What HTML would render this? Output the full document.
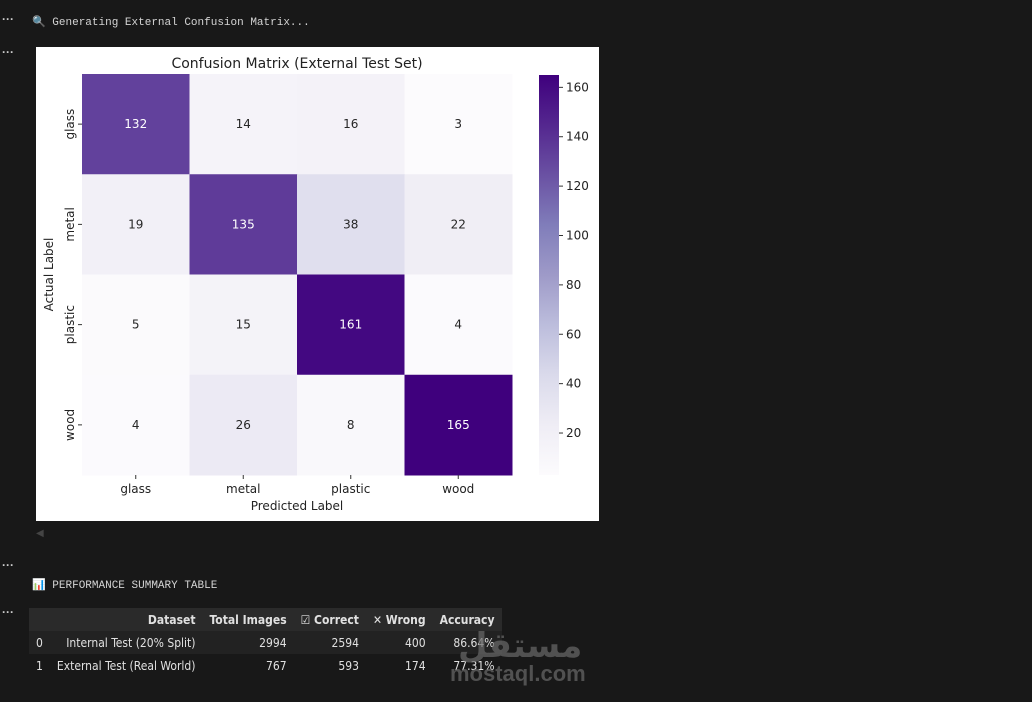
<!DOCTYPE html>
<html><head><meta charset="utf-8">
<style>
body{margin:0;width:1032px;height:702px;background:#181818;overflow:hidden;font-family:"Liberation Sans","DejaVu Sans",sans-serif;position:relative}
.mono{font-family:"Liberation Mono","DejaVu Sans Mono",monospace;color:#d4d4d4;font-size:11px;position:absolute}
.dots{position:absolute;left:2px;color:#ccc;font-size:12px;font-weight:bold}
table{position:absolute;left:29px;top:608px;border-collapse:collapse;font-size:12px;color:#e0e0e0;font-family:"DejaVu Sans Condensed","Liberation Sans",sans-serif}
th{background:#2a2a2a;text-align:right;padding:0 7px;height:23px;font-weight:bold}
td{text-align:right;padding:0 7px;height:23px}
tr.r1 td{background:#222}
</style></head><body>
<div class="dots" style="top:12px">···</div>
<div class="dots" style="top:45px">···</div>
<div class="dots" style="top:558px">···</div>
<div class="dots" style="top:605px">···</div>
<div class="mono" style="left:32px;top:15px">🔍 Generating External Confusion Matrix...</div>
<div class="mono" style="left:32px;top:578px">📊 PERFORMANCE SUMMARY TABLE</div>
<div style="position:absolute;left:36px;top:528px;color:#444;font-size:10px">◀</div>
<svg id="chart" style="position:absolute;left:36px;top:47px" width="563" height="474"></svg>
<table>
<tr><th></th><th>Dataset</th><th>Total Images</th><th>☑ Correct</th><th>✕ Wrong</th><th>Accuracy</th></tr>
<tr class="r1"><td style="text-align:left">0</td><td>Internal Test (20% Split)</td><td>2994</td><td>2594</td><td>400</td><td>86.64%</td></tr>
<tr><td style="text-align:left">1</td><td>External Test (Real World)</td><td>767</td><td>593</td><td>174</td><td>77.31%</td></tr>
</table>
<div style="position:absolute;left:450px;top:628px;color:#6a6a6a;font-size:22px;font-weight:bold;opacity:.7"><div style="font-size:34px;line-height:36px;margin-left:8px">مستقل</div><div style="line-height:20px">mostaql.com</div></div>
<script>
const labels=["glass","metal","plastic","wood"];
const matrix=[[132,14,16,3],[19,135,38,22],[5,15,161,4],[4,26,8,165]];
const cbTicks=[20,40,60,80,100,120,140,160];
const vmin=3,vmax=165;
const stops=["#fcfbfd","#efedf5","#dadaeb","#bcbddc","#9e9ac8","#807dba","#6a51a3","#54278f","#3f007d"];
function hex(c){return [1,3,5].map(i=>parseInt(c.substr(i,2),16))}
function cmap(v){let t=(v-vmin)/(vmax-vmin);t=Math.max(0,Math.min(1,t))*8;let i=Math.min(7,Math.floor(t)),f=t-i;const a=hex(stops[i]),b=hex(stops[i+1]);return `rgb(${a.map((x,k)=>Math.round(x+(b[k]-x)*f)).join(",")})`}
const svg=document.getElementById('chart');const NS="http://www.w3.org/2000/svg";
function el(t,a,txt){const e=document.createElementNS(NS,t);for(const k in a)e.setAttribute(k,a[k]);if(txt!=null)e.textContent=txt;svg.appendChild(e);return e}
el('rect',{x:0,y:0,width:563,height:474,fill:'#fff'});
const X0=46,Y0=27,W=430,H=401,cw=W/4,ch=H/4;
const fs={'font-family':'DejaVu Sans, Liberation Sans, sans-serif','font-size':12,fill:'#222'};
let t=el('text',{x:X0+W/2,y:21,'text-anchor':'middle','font-family':'DejaVu Sans, sans-serif','font-size':14,fill:'#222'},'Confusion Matrix (External Test Set)');

matrix.forEach((row,r)=>row.forEach((v,c)=>{
 const rc=el('rect',{x:X0+c*cw,y:Y0+r*ch,width:cw+0.5,height:ch+0.5,fill:cmap(v)});
 
 const tx=el('text',Object.assign({},fs,{x:X0+c*cw+cw/2,y:Y0+r*ch+ch/2+4,'text-anchor':'middle',fill:(v-vmin)/(vmax-vmin)>0.5?'#fff':'#262626'}),v);
 
}));
labels.forEach((l,i)=>{
 const x=X0+i*cw+cw/2;el('line',{x1:x,x2:x,y1:Y0+H,y2:Y0+H+4,stroke:'#333'});
 const a=el('text',Object.assign({},fs,{x:x,y:Y0+H+18,'text-anchor':'middle'}),l);
 const y=Y0+i*ch+ch/2;el('line',{x1:X0-4,x2:X0,y1:y,y2:y,stroke:'#333'});
 const b=el('text',Object.assign({},fs,{x:0,y:0,'text-anchor':'middle',transform:`translate(${X0-8},${y}) rotate(-90)`}),l);
});
let xl=el('text',Object.assign({},fs,{x:X0+W/2,y:463,'text-anchor':'middle'}),'Predicted Label');
let yl=el('text',Object.assign({},fs,{x:0,y:0,'text-anchor':'middle',transform:`translate(17,${Y0+H/2}) rotate(-90)`}),'Actual Label');
const CX=503,CY=28,CW=20,CH=400;
const defs=el('defs',{});const g=document.createElementNS(NS,'linearGradient');g.setAttribute('id','cg');g.setAttribute('x1',0);g.setAttribute('y1',1);g.setAttribute('x2',0);g.setAttribute('y2',0);defs.appendChild(g);
stops.forEach((s,i)=>{const st=document.createElementNS(NS,'stop');st.setAttribute('offset',i/8);st.setAttribute('stop-color',s);g.appendChild(st)});
const cb=el('rect',{x:CX,y:CY,width:CW,height:CH,fill:'url(#cg)'});
const cy=v=>CY+CH-(v-vmin)/(vmax-vmin)*CH;
cbTicks.forEach(v=>{el('line',{x1:CX+CW,x2:CX+CW+4,y1:cy(v),y2:cy(v),stroke:'#333'});
 const k=el('text',Object.assign({},fs,{x:CX+CW+7,y:cy(v)+4}),v);});
</script>
</body></html>
